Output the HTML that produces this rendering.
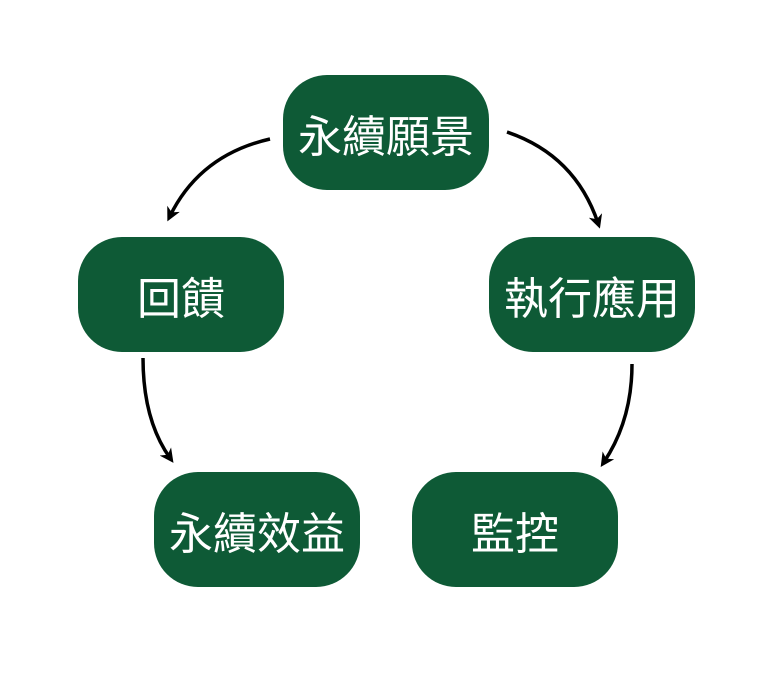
<!DOCTYPE html>
<html><head><meta charset="utf-8"><style>
body{margin:0;width:767px;height:688px;background:#fff;position:relative;overflow:hidden}
.b{position:absolute;width:206px;height:115px;border-radius:44px;background:#0e5a36;color:#fff;
font-family:"Liberation Sans","Noto Sans CJK TC",sans-serif;font-size:44px;display:flex;align-items:center;justify-content:center}
svg{position:absolute;left:0;top:0}
</style></head><body>
<div class="b" style="left:283px;top:75px">永續願景</div>
<div class="b" style="left:78px;top:237px">回饋</div>
<div class="b" style="left:489px;top:237px">執行應用</div>
<div class="b" style="left:154px;top:472px">永續效益</div>
<div class="b" style="left:412px;top:472px">監控</div>
<svg width="767" height="688">
<defs><marker id="a" markerWidth="14" markerHeight="14" refX="8" refY="7" orient="auto" markerUnits="userSpaceOnUse">
<path d="M0,0 L14,7 L0,14 L4,7Z" fill="#000"/></marker></defs>
<g fill="none" stroke="#000" stroke-width="3.5" marker-end="url(#a)">
<path d="M270,139 Q200,155 170,216"/>
<path d="M507,132 Q575,155 598,223"/>
<path d="M143,358 Q143,420 170,458"/>
<path d="M632,364 Q632,420 604,462"/>
</g></svg>
</body></html>
